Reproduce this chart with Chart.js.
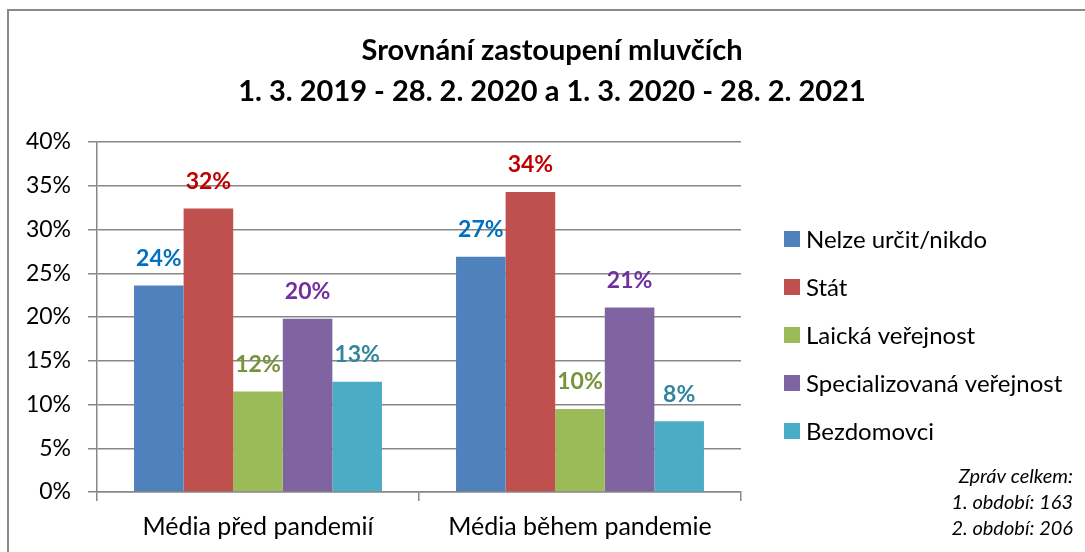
<!DOCTYPE html>
<html lang="cs">
<head>
    <meta charset="UTF-8">
    <title>Srovnání zastoupení mluvčích</title>
    <style>
      html, body { margin: 0; padding: 0; background: #fff; }
      #wrap { width: 1085px; height: 552px; }
    </style>
</head>
<body>
    <div id="wrap"><canvas id="myChart" width="1085" height="552"></canvas></div>

    <script src="https://cdn.jsdelivr.net/npm/chart.js@4.4.0/dist/chart.umd.min.js"></script>
    <script type="text/javascript">
    // data (percent)
    const categories = ['Média před pandemií', 'Média během pandemie'];
    const seriesNames = ['Nelze určit/nikdo', 'Stát', 'Laická veřejnost', 'Specializovaná veřejnost', 'Bezdomovci'];
    const nelzeUrcit = [23.6, 26.9];
    const stat = [32.4, 34.3];
    const laicka = [11.5, 9.5];
    const specializovana = [19.8, 21.1];
    const bezdomovci = [12.6, 8.1];
    const yTicks = [0, 5, 10, 15, 20, 25, 30, 35, 40];
    const titleLines = ['Srovnání zastoupení mluvčích', '1. 3. 2019 - 28. 2. 2020 a 1. 3. 2020 - 28. 2. 2021'];
    const noteLines = ['Zpráv celkem:', '1. období: 163', '2. období: 206'];

    const barColors = ['#4F81BD', '#C0504D', '#9BBB59', '#8064A2', '#4BACC6'];
    const labelColors = ['#0070C0', '#C00000', '#77933C', '#7030A0', '#31859C'];
    const gridColor = '#878787';

    Chart.defaults.font.family = 'Lato, "Open Sans", sans-serif';
    Chart.defaults.color = '#000';

    // white background + outer frame
    const framePlugin = {
      id: 'frame',
      beforeDraw(chart) {
        const c = chart.ctx;
        c.save();
        c.fillStyle = '#fff';
        c.fillRect(0, 0, chart.width, chart.height);
        c.strokeStyle = '#8a8a8a';
        c.lineWidth = 2;
        c.strokeRect(8, 10, chart.width + 20, chart.height + 20);
        c.restore();
      }
    };

    // value labels above the bars
    const valueLabels = {
      id: 'valueLabels',
      afterDatasetsDraw(chart) {
        const c = chart.ctx;
        c.save();
        c.font = 'bold 23px Lato, sans-serif';
        c.textAlign = 'center';
        c.textBaseline = 'middle';
        chart.data.datasets.forEach((ds, i) => {
          const meta = chart.getDatasetMeta(i);
          meta.data.forEach((bar, j) => {
            c.fillStyle = labelColors[i];
            c.fillText(Math.round(ds.data[j]) + '%', bar.x, bar.y - 27);
          });
        });
        c.restore();
      }
    };

    // legend on the right and the note below it
    const sideLegend = {
      id: 'sideLegend',
      afterDraw(chart) {
        const c = chart.ctx;
        c.save();
        c.textBaseline = 'middle';
        c.textAlign = 'left';
        c.font = '24px Lato, sans-serif';
        chart.data.datasets.forEach((ds, i) => {
          const y = 239 + i * 48;
          c.fillStyle = ds.backgroundColor;
          c.fillRect(784, y - 8, 16, 16);
          c.fillStyle = '#000';
          c.fillText(ds.label, 806, y + 1);
        });
        c.font = 'italic 20px Lato, sans-serif';
        c.textAlign = 'right';
        noteLines.forEach((t, k) => {
          c.fillText(t, 1073, 477 + k * 26);
        });
        c.restore();
      }
    };

    const allSeries = [nelzeUrcit, stat, laicka, specializovana, bezdomovci];

    var ctx = document.getElementById('myChart').getContext('2d');
    var chart = new Chart(ctx, {
        type: 'bar',
        data: {
            labels: categories,
            datasets: seriesNames.map((name, i) => ({
                label: name,
                data: allSeries[i],
                backgroundColor: barColors[i],
                borderWidth: 0,
                barPercentage: 1,
                categoryPercentage: 0.77
            }))
        },
        options: {
            responsive: false,
            animation: false,
            layout: { padding: { left: 19 } },
            plugins: {
                legend: { display: false },
                tooltip: { enabled: false },
                title: {
                    display: true,
                    text: titleLines,
                    color: '#000',
                    font: { size: 29, weight: 'bold', lineHeight: '41px' },
                    padding: { top: 30, bottom: 30 }
                }
            },
            scales: {
                x: {
                    grid: { display: true, drawOnChartArea: false, color: gridColor, lineWidth: 1.5, tickLength: 9, offset: true },
                    border: { display: true, color: gridColor, width: 1.5 },
                    ticks: { font: { size: 25 }, padding: 11, color: '#000' },
                    afterFit(scale) { scale.height = 60; }
                },
                y: {
                    min: 0,
                    max: 40,
                    afterBuildTicks(scale) { scale.ticks = yTicks.map(v => ({ value: v })); },
                    grid: { color: gridColor, lineWidth: 1.5, tickLength: 9 },
                    border: { display: true, color: gridColor, width: 1.5 },
                    ticks: { font: { size: 23 }, padding: 17, color: '#000', callback: v => v + '%' },
                    afterFit(scale) { scale.width = 78; }
                },
                // empty right-hand axis: reserves the room for the legend
                side: {
                    type: 'linear',
                    position: 'right',
                    display: true,
                    grid: { display: false, drawTicks: false },
                    border: { display: false },
                    ticks: { display: false },
                    afterFit(scale) { scale.width = 344; }
                }
            }
        },
        plugins: [framePlugin, valueLabels, sideLegend]
    });
    </script>
</body>
</html>
